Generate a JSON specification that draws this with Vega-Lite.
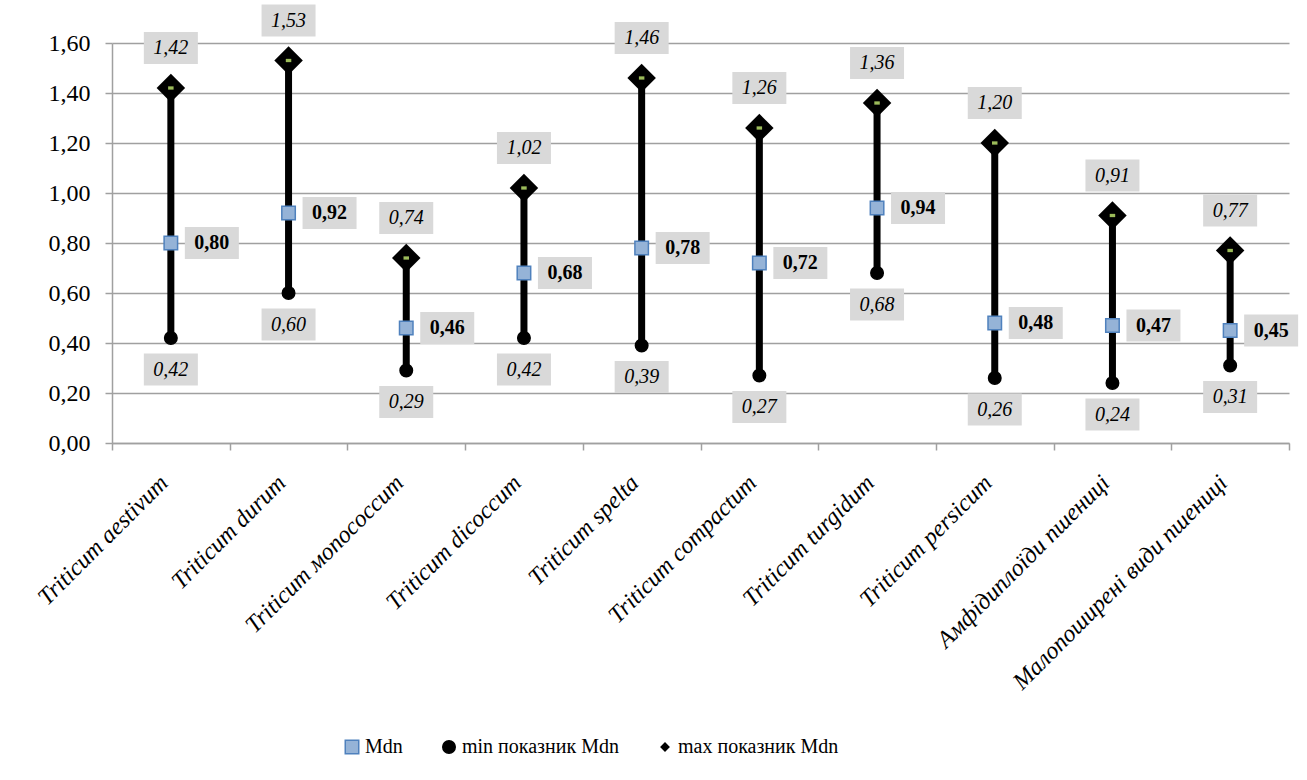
{
  "$schema": "https://vega.github.io/schema/vega-lite/v6.json",
  "autosize": "none",
  "width": 1177,
  "height": 400,
  "padding": {"left": 112, "top": 43, "right": 18, "bottom": 337},
  "background": "white",
  "config": {
    "locale": {"number": {"decimal": ",", "thousands": " ", "grouping": [3], "currency": ["", ""]}},
    "font": "Liberation Serif, Times New Roman, serif",
    "view": {"stroke": null},
    "axis": {"labelFont": "Liberation Serif, Times New Roman, serif", "labelColor": "#000000"},
    "legend": {"labelFont": "Liberation Serif, Times New Roman, serif"},
    "text": {"font": "Liberation Serif, Times New Roman, serif"}
  },
  "data": {
    "values": [
      {"cat": "Triticum aestivum", "Mdn": 0.80, "min показник Mdn": 0.42, "max показник Mdn": 1.42},
      {"cat": "Triticum durum", "Mdn": 0.92, "min показник Mdn": 0.60, "max показник Mdn": 1.53},
      {"cat": "Triticum мonococcum", "Mdn": 0.46, "min показник Mdn": 0.29, "max показник Mdn": 0.74},
      {"cat": "Triticum dicoccum", "Mdn": 0.68, "min показник Mdn": 0.42, "max показник Mdn": 1.02},
      {"cat": "Triticum spelta", "Mdn": 0.78, "min показник Mdn": 0.39, "max показник Mdn": 1.46},
      {"cat": "Triticum compactum", "Mdn": 0.72, "min показник Mdn": 0.27, "max показник Mdn": 1.26},
      {"cat": "Triticum turgidum", "Mdn": 0.94, "min показник Mdn": 0.68, "max показник Mdn": 1.36},
      {"cat": "Triticum persicum", "Mdn": 0.48, "min показник Mdn": 0.26, "max показник Mdn": 1.20},
      {"cat": "Амфідиплоїди пшениці", "Mdn": 0.47, "min показник Mdn": 0.24, "max показник Mdn": 0.91},
      {"cat": "Малопоширені види пшениці", "Mdn": 0.45, "min показник Mdn": 0.31, "max показник Mdn": 0.77}
    ]
  },
  "encoding": {
    "x": {
      "field": "cat", "type": "nominal", "sort": null,
      "scale": {"paddingInner": 0, "paddingOuter": 0},
      "axis": {
        "title": null, "labelAngle": -45, "labelAlign": "right", "labelBaseline": "middle",
        "labelFontSize": 24, "labelFontStyle": "italic", "labelPadding": 29, "labelOffset": -7,
        "tickBand": "extent", "tickSize": 7, "tickColor": "#A0A0A0", "tickWidth": 1.5,
        "domainColor": "#A0A0A0", "domainWidth": 1.5, "grid": false, "labelLimit": 400
      }
    }
  },
  "layer": [
    {
      "mark": {"type": "rule", "strokeWidth": 7, "color": "#000000"},
      "encoding": {
        "y": {
          "field": "min показник Mdn", "type": "quantitative",
          "scale": {"domain": [0, 1.6], "nice": false},
          "axis": {
            "title": null, "values": [0, 0.2, 0.4, 0.6, 0.8, 1.0, 1.2, 1.4, 1.6], "format": ".2f",
            "labelFontSize": 24, "labelPadding": 15, "tickSize": 7, "tickColor": "#A0A0A0", "tickWidth": 1.5,
            "domainColor": "#A0A0A0", "domainWidth": 1.5, "gridColor": "#A0A0A0", "gridWidth": 1.5
          }
        },
        "y2": {"field": "max показник Mdn"}
      }
    },
    {
      "mark": {"type": "point", "filled": true, "shape": "diamond", "size": 812, "color": "#000000", "opacity": 1},
      "encoding": {"y": {"field": "max показник Mdn", "type": "quantitative"}}
    },
    {
      "transform": [{"fold": ["Mdn", "min показник Mdn", "max показник Mdn"], "as": ["series", "value"]}],
      "mark": {"type": "point", "filled": true, "strokeWidth": 1.5, "opacity": 1},
      "encoding": {
        "y": {"field": "value", "type": "quantitative"},
        "shape": {
          "field": "series", "type": "nominal",
          "scale": {"domain": ["Mdn", "min показник Mdn", "max показник Mdn"], "range": ["square", "circle", "diamond"]},
          "legend": {
            "title": null, "orient": "none", "legendX": 230, "legendY": 694, "direction": "horizontal",
            "labelFontSize": 20, "labelColor": "#000000", "columnPadding": 36, "labelOffset": 3,
            "symbolStrokeWidth": 1.5, "labelLimit": 400
          }
        },
        "color": {
          "field": "series", "type": "nominal",
          "scale": {"domain": ["Mdn", "min показник Mdn", "max показник Mdn"], "range": ["#95B3D7", "#000000", "#000000"]},
          "legend": {
            "title": null, "orient": "none", "legendX": 230, "legendY": 694, "direction": "horizontal",
            "labelFontSize": 20, "labelColor": "#000000", "columnPadding": 36, "labelOffset": 3,
            "symbolStrokeWidth": 1.5, "labelLimit": 400
          }
        },
        "stroke": {
          "field": "series", "type": "nominal",
          "scale": {"domain": ["Mdn", "min показник Mdn", "max показник Mdn"], "range": ["#4F81BD", "#000000", "#000000"]},
          "legend": {
            "title": null, "orient": "none", "legendX": 230, "legendY": 694, "direction": "horizontal",
            "labelFontSize": 20, "labelColor": "#000000", "columnPadding": 36, "labelOffset": 3,
            "symbolStrokeWidth": 1.5, "labelLimit": 400
          }
        },
        "size": {
          "field": "series", "type": "nominal",
          "scale": {"type": "ordinal", "domain": ["Mdn", "min показник Mdn", "max показник Mdn"], "range": [182, 156, 60]},
          "legend": null
        }
      }
    },
    {
      "mark": {"type": "point", "filled": true, "shape": "M-1,-0.6H1V0.6H-1Z", "size": 30, "color": "#9BBB59", "opacity": 1},
      "encoding": {"y": {"field": "max показник Mdn", "type": "quantitative"}}
    },
    {
      "mark": {"type": "point", "filled": true, "shape": "M-1,-0.593H1V0.593H-1Z", "size": 2916, "color": "#D9D9D9", "opacity": 1, "yOffset": -40},
      "encoding": {"y": {"field": "max показник Mdn", "type": "quantitative"}}
    },
    {
      "mark": {"type": "point", "filled": true, "shape": "M-1,-0.593H1V0.593H-1Z", "size": 2916, "color": "#D9D9D9", "opacity": 1, "yOffset": 31.5},
      "encoding": {"y": {"field": "min показник Mdn", "type": "quantitative"}}
    },
    {
      "mark": {"type": "point", "filled": true, "shape": "M-1,-0.593H1V0.593H-1Z", "size": 2916, "color": "#D9D9D9", "opacity": 1, "xOffset": 41},
      "encoding": {"y": {"field": "Mdn", "type": "quantitative"}}
    },
    {
      "mark": {"type": "text", "fontSize": 20, "fontStyle": "italic", "color": "#000000", "baseline": "middle", "align": "center", "yOffset": -40},
      "encoding": {
        "y": {"field": "max показник Mdn", "type": "quantitative"},
        "text": {"field": "max показник Mdn", "type": "quantitative", "format": ".2f"}
      }
    },
    {
      "mark": {"type": "text", "fontSize": 20, "fontStyle": "italic", "color": "#000000", "baseline": "middle", "align": "center", "yOffset": 31.5},
      "encoding": {
        "y": {"field": "min показник Mdn", "type": "quantitative"},
        "text": {"field": "min показник Mdn", "type": "quantitative", "format": ".2f"}
      }
    },
    {
      "mark": {"type": "text", "fontSize": 20, "fontWeight": "bold", "color": "#000000", "baseline": "middle", "align": "center", "xOffset": 41},
      "encoding": {
        "y": {"field": "Mdn", "type": "quantitative"},
        "text": {"field": "Mdn", "type": "quantitative", "format": ".2f"}
      }
    }
  ]
}
